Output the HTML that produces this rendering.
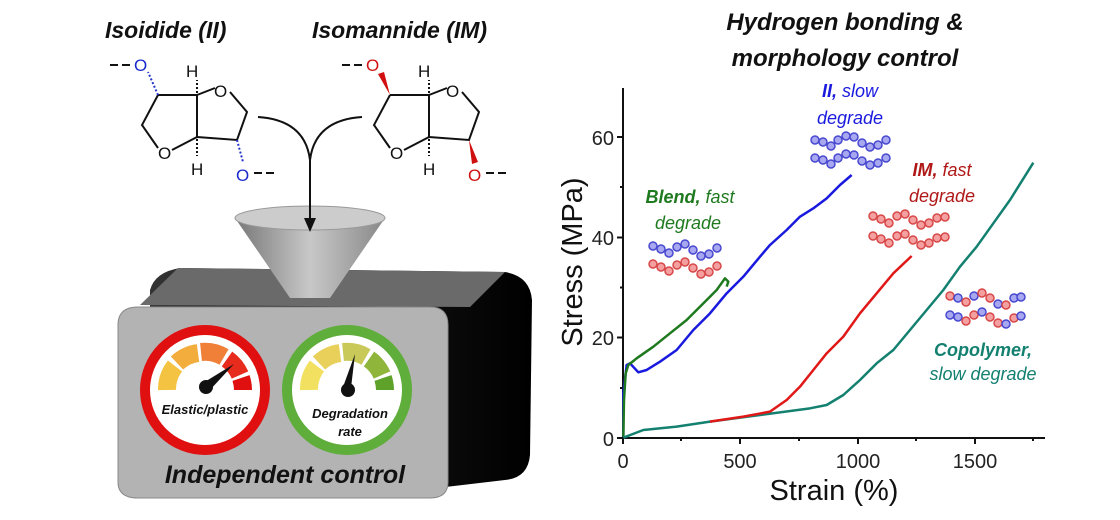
<!DOCTYPE html>
<html><head><meta charset="utf-8"><style>
html,body{margin:0;padding:0;background:#fff;}
svg{display:block;font-family:"Liberation Sans",sans-serif;}
</style></head><body>
<svg width="1120" height="520" viewBox="0 0 1120 520" xmlns="http://www.w3.org/2000/svg">
<defs>
<linearGradient id="fun" x1="0" x2="1"><stop offset="0" stop-color="#777"/><stop offset="0.5" stop-color="#c8c8c8"/><stop offset="1" stop-color="#888"/></linearGradient>
<linearGradient id="side" x1="0" x2="1"><stop offset="0" stop-color="#333"/><stop offset="0.6" stop-color="#111"/><stop offset="1" stop-color="#000"/></linearGradient>
</defs>
<g font-weight="bold" font-style="italic" font-size="23" fill="#111">
<text x="105" y="38">Isoidide (II)</text>
<text x="312" y="38">Isomannide (IM)</text>
<text x="845" y="30" text-anchor="middle" font-size="24">Hydrogen bonding &amp;</text>
<text x="845" y="66" text-anchor="middle" font-size="24">morphology control</text>
</g>
<g stroke="#111" stroke-width="2" fill="none">
<path d="M158 95 L142 125 L158 148 M172 150 L197 137 L197 95 L158 95 M197 95 L215 88 M230 92 L247 112 L237 140 L197 137"/>
<path d="M110 65 L118 65 M122 65 L130 65" />
<path d="M254 173 L262 173 M266 173 L274 173"/>
<path d="M197 93 L197 80 M197 139 L197 156" stroke-dasharray="2 2"/>
</g>
<g font-size="17" fill="#111">
<text x="186" y="77">H</text><text x="191" y="175">H</text>
<text x="214" y="97">O</text><text x="158" y="159">O</text>
</g>
<path d="M158 95 L148 72 M237 140 L243 162" stroke="#2233cc" stroke-width="2" stroke-dasharray="2 2"/>
<text x="134" y="71" font-size="17" fill="#1a2acc">O</text>
<text x="236" y="181" font-size="17" fill="#1a2acc">O</text>
<g transform="translate(232 0)">
<g stroke="#111" stroke-width="2" fill="none">
<path d="M158 95 L142 125 L158 148 M172 150 L197 137 L197 95 L158 95 M197 95 L215 88 M230 92 L247 112 L237 140 L197 137"/>
<path d="M110 65 L118 65 M122 65 L130 65"/>
<path d="M254 173 L262 173 M266 173 L274 173"/>
<path d="M197 93 L197 80 M197 139 L197 156" stroke-dasharray="2 2"/>
</g>
<g font-size="17" fill="#111"><text x="186" y="77">H</text><text x="191" y="175">H</text><text x="214" y="97">O</text><text x="158" y="159">O</text></g>
<path d="M158 95 L146 74 L152 72 Z M237 140 L246 162 L240 164 Z" fill="#d01010"/>
<text x="134" y="71" font-size="17" fill="#d01010">O</text>
<text x="236" y="181" font-size="17" fill="#d01010">O</text>
</g>
<path d="M258 117 Q305 120 310 160 M362 117 Q315 120 310 160 L310 220" stroke="#111" stroke-width="2" fill="none"/>
<path d="M150 290 Q155 272 180 268 L505 272 Q530 276 532 300 L530 455 Q528 478 505 480 L420 490 L150 490 Z" fill="url(#side)"/>
<path d="M118 325 Q118 307 138 307 L430 307 Q448 307 448 325 L448 482 Q448 498 430 498 L138 498 Q118 498 118 482 Z" fill="#b3b3b3" stroke="#888" stroke-width="1"/>
<path d="M140 305 L178 268 L505 272 L470 307 Z" fill="#6a6a6a"/>
<path d="M235 218 L290 298 L330 298 L385 218 Z" fill="url(#fun)"/>
<ellipse cx="310" cy="218" rx="75" ry="12" fill="#ccc" stroke="#999"/>
<path d="M310 200 L310 228" stroke="#111" stroke-width="2"/><path d="M304 218 L316 218 L310 232 Z" fill="#111"/>
<circle cx="205" cy="390" r="60" fill="#fff" stroke="#e01010" stroke-width="10"/>
<circle cx="347" cy="390" r="60" fill="#fff" stroke="#5fad3a" stroke-width="10"/>
<g fill="none" stroke-width="18">
<path d="M167 390 A38 38 0 0 1 175 366" stroke="#f3c341"/>
<path d="M177 363 A38 38 0 0 1 198 353" stroke="#f2ad3d"/>
<path d="M201 352 A38 38 0 0 1 224 357" stroke="#f08038"/>
<path d="M227 359 A38 38 0 0 1 240 375" stroke="#e72b1c"/>
<path d="M241 378 A38 38 0 0 1 243 390" stroke="#e01010"/>
<path d="M309 390 A38 38 0 0 1 317 366" stroke="#f2e060"/>
<path d="M319 363 A38 38 0 0 1 340 353" stroke="#e8d05a"/>
<path d="M343 352 A38 38 0 0 1 366 357" stroke="#c9c95a"/>
<path d="M369 359 A38 38 0 0 1 382 375" stroke="#8fb63a"/>
<path d="M383 378 A38 38 0 0 1 385 390" stroke="#5ea22a"/>
</g>
<path d="M203 383 L234 364 L209 391 Z" fill="#111"/><circle cx="206" cy="387" r="7" fill="#111"/>
<path d="M343 387 L355 354 L351 388 Z" fill="#111"/><circle cx="348" cy="390" r="7" fill="#111"/>
<g font-weight="bold" font-style="italic" fill="#111" text-anchor="middle">
<text x="205" y="414" font-size="13">Elastic/plastic</text>
<text x="350" y="418" font-size="13">Degradation</text>
<text x="350" y="436" font-size="13">rate</text>
<text x="285" y="483" font-size="25">Independent control</text>
</g>
<g stroke="#111" stroke-width="2" fill="none">
<path d="M623 88 L623 438 L1045 438"/>
<path d="M617 137 L623 137 M617 237.5 L623 237.5 M617 337.5 L623 337.5 M617 438 L623 438 M620 187 L623 187 M620 287.5 L623 287.5 M620 388 L623 388"/>
<path d="M623 438 L623 444 M740 438 L740 444 M858 438 L858 444 M975 438 L975 444 M681 438 L681 441 M799 438 L799 441 M916 438 L916 441 M1033 438 L1033 441"/>
</g>
<g font-size="20" fill="#222" text-anchor="end">
<text x="614" y="145">60</text><text x="614" y="245">40</text><text x="614" y="345">20</text><text x="614" y="446">0</text>
</g>
<g font-size="20" fill="#222" text-anchor="middle">
<text x="623" y="468">0</text><text x="740" y="468">500</text><text x="858" y="468">1000</text><text x="975" y="468">1500</text>
</g>
<text x="834" y="500" font-size="29" fill="#111" text-anchor="middle">Strain (%)</text>
<text transform="translate(582 262) rotate(-90)" font-size="29" fill="#111" text-anchor="middle">Stress (MPa)</text>
<g transform="translate(560 60) scale(0.33333)" fill="none" stroke-width="7.5" stroke-linejoin="round">
<polyline stroke="#1a1adf" points="190,1130 190,1000 200,915 210,910 235,937 260,930 300,905 350,870 400,810 450,760 500,700 550,650 600,590 630,555 680,510 720,470 760,445 800,415 840,375 875,345"/>
<polyline stroke="#1f7a1f" points="190,1130 192,1020 197,940 205,915 230,895 280,860 330,820 380,780 430,730 470,690 495,655 505,665 500,680"/>
<polyline stroke="#138070" points="190,1133 250,1110 350,1100 450,1085 600,1065 750,1045 800,1035 850,1005 900,960 950,910 1000,870 1050,810 1100,750 1150,690 1200,620 1250,560 1300,490 1350,420 1420,308"/>
<polyline stroke="#e01818" points="450,1085 550,1070 630,1055 680,1020 720,980 760,930 800,880 850,830 900,760 950,700 1000,640 1055,588"/>
</g>
<g stroke-width="1.5">
<g fill="#a8a8f0" stroke="#4848d0">
<circle cx="815" cy="140" r="4"/><circle cx="823" cy="142" r="4"/><circle cx="831" cy="146" r="4"/><circle cx="838" cy="140" r="4"/><circle cx="846" cy="136" r="4"/><circle cx="854" cy="137" r="4"/><circle cx="862" cy="143" r="4"/><circle cx="870" cy="147" r="4"/><circle cx="878" cy="145" r="4"/><circle cx="886" cy="140" r="4"/>
<circle cx="815" cy="158" r="4"/><circle cx="823" cy="160" r="4"/><circle cx="831" cy="164" r="4"/><circle cx="838" cy="158" r="4"/><circle cx="846" cy="154" r="4"/><circle cx="854" cy="155" r="4"/><circle cx="862" cy="161" r="4"/><circle cx="870" cy="165" r="4"/><circle cx="878" cy="163" r="4"/><circle cx="886" cy="158" r="4"/>
<circle cx="653" cy="246" r="4"/><circle cx="661" cy="249" r="4"/><circle cx="669" cy="253" r="4"/><circle cx="677" cy="247" r="4"/><circle cx="685" cy="244" r="4"/><circle cx="693" cy="250" r="4"/><circle cx="701" cy="256" r="4"/><circle cx="709" cy="254" r="4"/><circle cx="717" cy="248" r="4"/>
</g>
<g fill="#f4a0a0" stroke="#d84848">
<circle cx="653" cy="264" r="4"/><circle cx="661" cy="267" r="4"/><circle cx="669" cy="271" r="4"/><circle cx="677" cy="265" r="4"/><circle cx="685" cy="262" r="4"/><circle cx="693" cy="268" r="4"/><circle cx="701" cy="274" r="4"/><circle cx="709" cy="272" r="4"/><circle cx="717" cy="266" r="4"/>
<circle cx="873" cy="216" r="4"/><circle cx="881" cy="219" r="4"/><circle cx="889" cy="223" r="4"/><circle cx="897" cy="216" r="4"/><circle cx="905" cy="214" r="4"/><circle cx="913" cy="220" r="4"/><circle cx="921" cy="225" r="4"/><circle cx="929" cy="223" r="4"/><circle cx="937" cy="218" r="4"/><circle cx="945" cy="217" r="4"/>
<circle cx="873" cy="236" r="4"/><circle cx="881" cy="239" r="4"/><circle cx="889" cy="243" r="4"/><circle cx="897" cy="236" r="4"/><circle cx="905" cy="234" r="4"/><circle cx="913" cy="240" r="4"/><circle cx="921" cy="245" r="4"/><circle cx="929" cy="243" r="4"/><circle cx="937" cy="238" r="4"/><circle cx="945" cy="237" r="4"/>
</g>
<g>
<circle cx="950" cy="296" r="4" fill="#f4a0a0" stroke="#d84848"/><circle cx="958" cy="298" r="4" fill="#a8a8f0" stroke="#4848d0"/><circle cx="966" cy="302" r="4" fill="#f4a0a0" stroke="#d84848"/><circle cx="974" cy="296" r="4" fill="#a8a8f0" stroke="#4848d0"/><circle cx="982" cy="293" r="4" fill="#f4a0a0" stroke="#d84848"/><circle cx="990" cy="298" r="4" fill="#f4a0a0" stroke="#d84848"/><circle cx="998" cy="304" r="4" fill="#a8a8f0" stroke="#4848d0"/><circle cx="1006" cy="305" r="4" fill="#f4a0a0" stroke="#d84848"/><circle cx="1014" cy="298" r="4" fill="#a8a8f0" stroke="#4848d0"/><circle cx="1021" cy="297" r="4" fill="#a8a8f0" stroke="#4848d0"/>
<circle cx="950" cy="315" r="4" fill="#a8a8f0" stroke="#4848d0"/><circle cx="958" cy="317" r="4" fill="#a8a8f0" stroke="#4848d0"/><circle cx="966" cy="321" r="4" fill="#f4a0a0" stroke="#d84848"/><circle cx="974" cy="315" r="4" fill="#f4a0a0" stroke="#d84848"/><circle cx="982" cy="312" r="4" fill="#a8a8f0" stroke="#4848d0"/><circle cx="990" cy="317" r="4" fill="#f4a0a0" stroke="#d84848"/><circle cx="998" cy="323" r="4" fill="#f4a0a0" stroke="#d84848"/><circle cx="1006" cy="324" r="4" fill="#a8a8f0" stroke="#4848d0"/><circle cx="1014" cy="318" r="4" fill="#f4a0a0" stroke="#d84848"/><circle cx="1021" cy="316" r="4" fill="#a8a8f0" stroke="#4848d0"/>
</g>
</g>
<g font-size="18" font-style="italic">
<text x="850" y="97" text-anchor="middle" fill="#1a1adf"><tspan font-weight="bold">II,</tspan> slow</text>
<text x="850" y="124" text-anchor="middle" fill="#1a1adf">degrade</text>
<text x="942" y="176" text-anchor="middle" fill="#b01818"><tspan font-weight="bold">IM,</tspan> fast</text>
<text x="942" y="202" text-anchor="middle" fill="#b01818">degrade</text>
<text x="690" y="203" text-anchor="middle" fill="#1f7a1f"><tspan font-weight="bold">Blend,</tspan> fast</text>
<text x="688" y="229" text-anchor="middle" fill="#1f7a1f">degrade</text>
<text x="983" y="356" text-anchor="middle" fill="#138070" font-weight="bold">Copolymer,</text>
<text x="983" y="380" text-anchor="middle" fill="#138070">slow degrade</text>
</g>
</svg>
</body></html>
